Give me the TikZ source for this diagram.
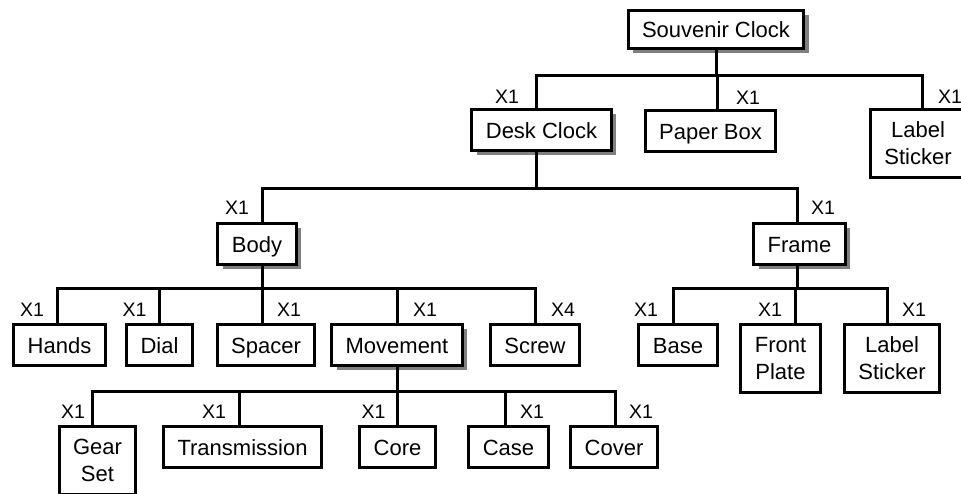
\documentclass[tikz,border=0pt]{standalone}
\usepackage{fontspec}
\setmainfont{Liberation Sans}
\usetikzlibrary{positioning,shadows}
\tikzset{
  part/.style={draw,line width=3pt,fill=white,anchor=north,minimum height=40.5pt,
    text height=18pt,text depth=1.5pt,
    inner xsep=14pt,inner ysep=0pt,align=center,font=\fontsize{22}{27}\selectfont},
  tallpart/.style={part,minimum height=68pt,text height={},text depth={}},
  assy/.style={part,general shadow={fill=black!50,shadow xshift=5pt,shadow yshift=-4.5pt}},
  qty/.style={font=\fontsize{19.5}{20}\selectfont,inner sep=0pt},
  link/.style={draw,line width=3pt},
}

\begin{document}
\begin{tikzpicture}[x=1pt,y=-1pt]
\useasboundingbox (0,0) rectangle (961,493);

% top level
\node[assy,minimum height=38pt] (sc) at (716,9) {Souvenir Clock};

\node[assy] (dc) at (541.5,108) {Desk Clock};
\node[part] (pb) at (710.5,109) {Paper Box};
\node[tallpart] (ls1) at (918,108) {Label\\Sticker};

\node[assy] (bd) at (257,222) {Body};
\node[assy] (fr) at (799.5,222) {Frame};

\node[part] (hd) at (59.5,323) {Hands};
\node[part] (dl) at (159.5,323) {Dial};
\node[part] (sp) at (266,323) {Spacer};
\node[assy] (mv) at (397,323) {Movement};
\node[part] (sw) at (535,323) {Screw};
\node[part] (bs) at (678,323) {Base};
\node[tallpart] (fp) at (780.5,323) {Front\\Plate};
\node[tallpart] (ls2) at (892,323) {Label\\Sticker};

\node[tallpart] (gs) at (97.5,425) {Gear\\Set};
\node[part] (tr) at (242.5,425) {Transmission};
\node[part] (co) at (397.5,425) {Core};
\node[part] (cs) at (508.5,425) {Case};
\node[part] (cv) at (614,425) {Cover};

% trunks down to the bars
\draw[link] (sc.south) -- ++(0,25.5) coordinate (b0);
\draw[link] ([xshift=-5.5pt]dc.south) -- ++(0,36.5) coordinate (b1);
\draw[link] ([xshift=5pt]bd.south) -- ++(0,22.5) coordinate (b2);
\draw[link] ([xshift=-2.5pt]fr.south) -- ++(0,22.5) coordinate (b3);
\draw[link] (mv.south) -- ++(0,24.5) coordinate (b4);

% drops and quantities
\foreach \c/\d/\l/\q in {dc/-5.5/-29/X1, pb/6.5/31/X1, ls1/4/28/X1}{
  \draw[link] (b0) -| ([xshift=\d pt]\c.north);
  \node[qty] (q-\c) at ([xshift={(\d+\l)*1pt},yshift=11pt]\c.north) {\q};
}
\foreach \c/\d/\l/\q in {bd/5/-25/X1, fr/-2.5/26/X1}{
  \draw[link] (b1) -| ([xshift=\d pt]\c.north);
  \node[qty] (q-\c) at ([xshift={(\d+\l)*1pt},yshift=14pt]\c.north) {\q};
}
\foreach \c/\d/\l/\q in {hd/-2.5/-25/X1, dl/0/-25/X1, sp/-4/27/X1, mv/0/28/X1, sw/0/28/X4}{
  \draw[link] (b2) -| ([xshift=\d pt]\c.north);
  \node[qty] (q-\c) at ([xshift={(\d+\l)*1pt},yshift=13pt]\c.north) {\q};
}
\foreach \c/\d/\l/\q in {bs/-5/-27/X1, fp/14.5/-25/X1, ls2/-5/27/X1}{
  \draw[link] (b3) -| ([xshift=\d pt]\c.north);
  \node[qty] (q-\c) at ([xshift={(\d+\l)*1pt},yshift=13pt]\c.north) {\q};
}
\foreach \c/\d/\l/\q in {gs/-5.5/-19/X1, tr/-3.5/-25/X1, co/0/-24/X1, cs/-3.5/27/X1, cv/1/26/X1}{
  \draw[link] (b4) -| ([xshift=\d pt]\c.north);
  \node[qty] (q-\c) at ([xshift={(\d+\l)*1pt},yshift=13pt]\c.north) {\q};
}

\end{tikzpicture}
\end{document}
